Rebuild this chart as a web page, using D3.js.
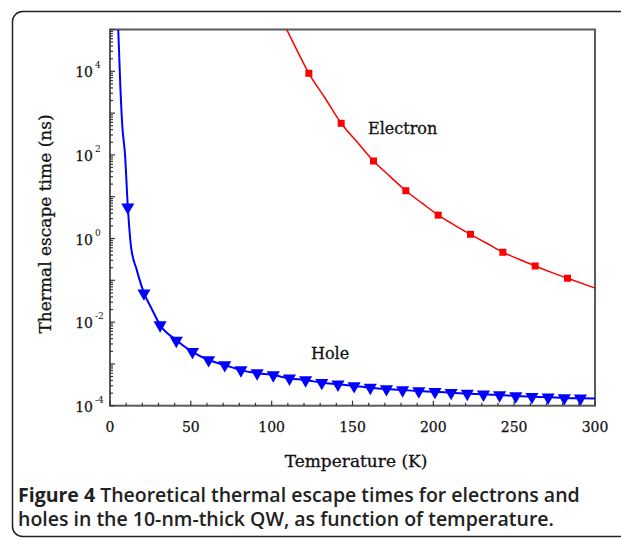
<!DOCTYPE html>
<html>
<head>
<meta charset="utf-8">
<script src="https://cdn.jsdelivr.net/npm/d3@7"></script>
<style>
  body { margin: 0; background: #fff; }
  svg { display: block; }
</style>
</head>
<body>
<svg id="chart"></svg>
<script>
// Hole: line points and triangle markers (T in K, time in ns)
var holeLineT = [5.1, 6.4, 7.6, 9.3, 11, 13, 16.5, 21, 26, 31, 41, 51, 61, 71, 81, 91, 101, 111, 121, 131, 141, 151, 161, 171, 181, 191, 201, 211, 221, 231, 241, 251, 261, 271, 281, 291, 300];
var holeLineV = [1e5, 4300, 500, 100, 6.0, 0.64, 0.18, 0.05, 0.02, 0.0085, 0.0037, 0.00195, 0.00124, 0.00094, 0.00071, 0.0006, 0.00054, 0.00045, 0.00041, 0.000355, 0.000325, 0.000296, 0.00027, 0.000251, 0.000237, 0.000224, 0.000216, 0.000204, 0.000194, 0.000187, 0.00018, 0.00017, 0.000164, 0.000159, 0.000153, 0.00015, 0.000148];
var holeMarkT = [11, 21, 31, 41, 51, 61, 71, 81, 91, 101, 111, 121, 131, 141, 151, 161, 171, 181, 191, 201, 211, 221, 231, 241, 251, 261, 271, 281, 291];
var holeMarkV = [5.6, 0.049, 0.0085, 0.0036, 0.00195, 0.00124, 0.00094, 0.00071, 0.0006, 0.00054, 0.00045, 0.00041, 0.000355, 0.000325, 0.000296, 0.00027, 0.000251, 0.000237, 0.000224, 0.000216, 0.000204, 0.000194, 0.000187, 0.00018, 0.00017, 0.000164, 0.000159, 0.000153, 0.00015];

// Electron: line points and square markers
var elecLineT = [109.3, 116, 123, 133, 143, 153, 163, 173, 183, 193, 203, 213, 223, 233, 243, 253, 263, 273, 283, 300];
var elecLineV = [1e5, 30000, 8950, 2300, 570, 200, 71.5, 31, 13.9, 7, 3.63, 2.1, 1.26, 0.77, 0.468, 0.32, 0.22, 0.155, 0.112, 0.065];
var elecMarkT = [123, 143, 163, 183, 203, 223, 243, 263, 283];
var elecMarkV = [8950, 570, 71.5, 13.9, 3.63, 1.26, 0.468, 0.22, 0.112];

var xTicks = [0, 50, 100, 150, 200, 250, 300];
var yLabelExp = [4, 2, 0, -2, -4];

var W = 621, H = 540;
var svg = d3.select("#chart").attr("width", W).attr("height", H);

// outer rounded frame (runs off the right edge)
svg.append("rect")
  .attr("x", 12.5).attr("y", 11.5)
  .attr("width", 640).attr("height", 525)
  .attr("rx", 10)
  .attr("fill", "none").attr("stroke", "#222").attr("stroke-width", 1.5);

var pL = 110, pR = 595, pT = 29.5, pB = 405.7;
var x = d3.scaleLinear().domain([0, 300]).range([pL, pR]);
var y = d3.scaleLog().domain([1e-4, 1e5]).range([pB, pT]);

svg.append("clipPath").attr("id", "plotclip")
  .append("rect").attr("x", pL).attr("y", pT)
  .attr("width", pR - pL).attr("height", pB - pT);

// frame
svg.append("rect")
  .attr("x", pL).attr("y", pT)
  .attr("width", pR - pL).attr("height", pB - pT)
  .attr("fill", "none").attr("stroke", "#5a5a5a").attr("stroke-width", 2);

// x ticks (inward)
var g = svg.append("g").attr("stroke", "#333").attr("stroke-width", 1.2);
d3.range(0, 301, 10).forEach(function (t) {
  var len = t % 50 === 0 ? 5 : 3;
  g.append("line").attr("x1", x(t)).attr("x2", x(t))
    .attr("y1", pB).attr("y2", pB - len);
});
// y ticks (inward), decades and 2..9 minors
y.ticks().forEach(function (v) {
  var m = Math.round(v / Math.pow(10, Math.floor(Math.log10(v) + 1e-9)));
  g.append("line").attr("x1", pL).attr("x2", pL + (m === 1 ? 5 : 3))
    .attr("y1", y(v)).attr("y2", y(v));
});

var serif = "DejaVu Serif";
// tick labels
svg.append("g").selectAll("text").data(xTicks).enter().append("text")
  .attr("x", function (d) { return x(d); })
  .attr("y", 432)
  .attr("text-anchor", "middle")
  .style("font-family", serif)
  .style("font-size", "14px")
  .attr("fill", "#111").attr("stroke", "#111").attr("stroke-width", 0.25)
  .text(function (d) { return d; });

svg.append("g").selectAll("text").data(yLabelExp).enter().append("text")
  .attr("x", 93)
  .attr("y", function (d) { return y(Math.pow(10, d)) + 6; })
  .attr("text-anchor", "end")
  .style("font-family", serif)
  .style("font-size", "14px")
  .attr("fill", "#111").attr("stroke", "#111").attr("stroke-width", 0.25)
  .text("10");
svg.append("g").selectAll("text").data(yLabelExp).enter().append("text")
  .attr("x", 95)
  .attr("y", function (d) { return y(Math.pow(10, d)) - 3; })
  .style("font-family", serif)
  .style("font-size", "9px")
  .attr("fill", "#111")
  .text(function (d) { return d; });

// axis titles
svg.append("text")
  .attr("x", 356).attr("y", 467)
  .attr("text-anchor", "middle")
  .style("font-family", serif).style("font-size", "17px")
  .attr("fill", "#111").attr("stroke", "#111").attr("stroke-width", 0.3)
  .text("Temperature (K)");
svg.append("text")
  .attr("transform", "translate(51,224) rotate(-90)")
  .attr("text-anchor", "middle")
  .style("font-family", serif).style("font-size", "17px")
  .attr("fill", "#111").attr("stroke", "#111").attr("stroke-width", 0.3)
  .text("Thermal escape time (ns)");

// curves
var line = d3.line().curve(d3.curveMonotoneX)
  .x(function (d) { return x(d[0]); })
  .y(function (d) { return y(d[1]); });
var plot = svg.append("g").attr("clip-path", "url(#plotclip)");

plot.append("path")
  .datum(d3.zip(elecLineT, elecLineV))
  .attr("d", line)
  .attr("fill", "none").attr("stroke", "#ff0000").attr("stroke-width", 1.5);
plot.selectAll(".sq").data(d3.zip(elecMarkT, elecMarkV)).enter().append("rect")
  .attr("class", "sq")
  .attr("x", function (d) { return x(d[0]) - 3.5; })
  .attr("y", function (d) { return y(d[1]) - 3.5; })
  .attr("width", 7).attr("height", 7)
  .attr("fill", "#ff0000");

plot.append("path")
  .datum(d3.zip(holeLineT, holeLineV))
  .attr("d", line)
  .attr("fill", "none").attr("stroke", "#0000ff").attr("stroke-width", 2);
var tri = d3.symbol().type(d3.symbolTriangle).size(75);
plot.selectAll(".tri").data(d3.zip(holeMarkT, holeMarkV)).enter().append("path")
  .attr("class", "tri")
  .attr("d", tri)
  .attr("transform", function (d) { return "translate(" + x(d[0]) + "," + y(d[1]) + ") rotate(180)"; })
  .attr("fill", "#0000ff");

// series labels
svg.append("text").attr("x", 368).attr("y", 134)
  .style("font-family", serif).style("font-size", "16px")
  .attr("fill", "#111").attr("stroke", "#111").attr("stroke-width", 0.3)
  .text("Electron");
svg.append("text").attr("x", 311).attr("y", 359)
  .style("font-family", serif).style("font-size", "16px")
  .attr("fill", "#111").attr("stroke", "#111").attr("stroke-width", 0.3)
  .text("Hole");

// caption
var cap1 = svg.append("text").attr("x", 18).attr("y", 502)
  .style("font-family", "Open Sans").style("font-size", "19.5px")
  .attr("fill", "#222");
cap1.append("tspan").style("font-weight", 700).text("Figure 4");
cap1.append("tspan").style("font-weight", 600).text(" Theoretical thermal escape times for electrons and");
svg.append("text").attr("x", 18).attr("y", 526)
  .style("font-family", "Open Sans").style("font-size", "19.5px")
  .style("font-weight", 600).attr("fill", "#222")
  .text("holes in the 10-nm-thick QW, as function of temperature.");
</script>
</body>
</html>
